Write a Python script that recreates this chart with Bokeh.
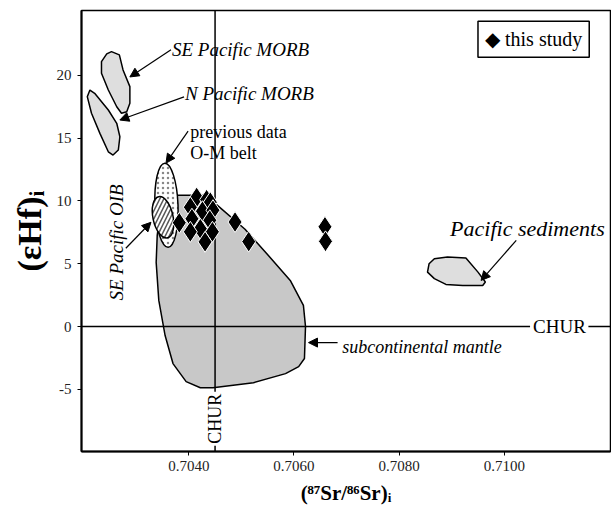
from bokeh.plotting import figure
from bokeh.models import (Range1d, FixedTicker, PrintfTickFormatter, Label, Arrow, NormalHead)
from bokeh.embed import file_html
from bokeh.resources import INLINE

# ---- data: this study ----
sr_this = [0.70415, 0.70434, 0.70441, 0.70403, 0.70426, 0.70446, 0.70382, 0.70406,
           0.70440, 0.70422, 0.70403, 0.70445, 0.70431, 0.70488, 0.70514, 0.70659, 0.70660]
hf_this = [10.27, 10.10, 9.90, 9.50, 9.18, 9.26, 8.26, 8.58,
           8.46, 7.78, 7.54, 7.54, 6.74, 8.32, 6.76, 7.94, 6.78]

# ---- fields (outlines) ----
mantle_sr = [0.70454, 0.70507, 0.70551, 0.70593, 0.70618, 0.70622, 0.70620, 0.70609,
             0.70584, 0.70523, 0.70446, 0.70422, 0.70395, 0.70370, 0.70355, 0.70343,
             0.70338, 0.70340, 0.70345, 0.70359, 0.70374, 0.70431]
mantle_hf = [9.66, 7.74, 5.67, 3.67, 1.68, 0.0, -2.55, -3.19,
             -3.75, -4.47, -4.87, -4.87, -4.39, -2.95, -0.72, 2.08,
             5.11, 7.26, 8.86, 10.22, 10.46, 10.46]
se_morb_sr = [0.70253, 0.70268, 0.70275, 0.70288, 0.70288, 0.70282, 0.70272, 0.70263,
              0.70247, 0.70234, 0.70234, 0.70244]
se_morb_hf = [21.89, 21.63, 20.43, 19.10, 17.77, 17.10, 16.98, 17.50,
              18.83, 20.17, 21.09, 21.71]
n_morb_sr = [0.70212, 0.70221, 0.70247, 0.70263, 0.70269, 0.70266, 0.70256, 0.70247,
             0.70231, 0.70215, 0.70207]
n_morb_hf = [18.83, 18.57, 17.24, 16.18, 15.11, 14.05, 13.65, 13.91,
             15.38, 16.98, 18.30]
sed_sr = [0.70857, 0.70867, 0.70892, 0.70927, 0.70950, 0.70964, 0.70959, 0.70921,
          0.70889, 0.70867, 0.70854]
sed_hf = [5.00, 5.40, 5.53, 5.45, 4.33, 3.54, 3.27, 3.27, 3.35, 3.81, 4.33]
prev_center = (0.703576, 9.66)
prev_size = (0.000439, 6.7)
oib_center = (0.703510, 8.70)
oib_size = (0.000382, 3.35)

CHUR_SR = 0.7045
CHUR_HF = 0.0

x_ticks = [0.7040, 0.7060, 0.7080, 0.7100]
y_ticks = [-5, 0, 5, 10, 15, 20]

X0, X1 = 0.70196, 0.71202
Y0, Y1 = -9.95, 25.16

SERIF = "Liberation Serif"

p = figure(width=611, height=523, output_backend="svg", toolbar_location=None,
           x_range=Range1d(X0, X1), y_range=Range1d(Y0, Y1),
           min_border_left=81, min_border_right=1, min_border_top=10, min_border_bottom=72)
p.grid.visible = False
p.outline_line_color = "black"
p.outline_line_width = 1.5
p.background_fill_color = "white"

# axes
p.xaxis.ticker = FixedTicker(ticks=x_ticks)
p.yaxis.ticker = FixedTicker(ticks=y_ticks)
p.xaxis.formatter = PrintfTickFormatter(format="%.4f")
p.yaxis.formatter = PrintfTickFormatter(format="%d")
for ax in (p.xaxis, p.yaxis):
    ax.axis_line_width = 2
    ax.axis_line_color = "black"
    ax.major_tick_out = 4
    ax.major_tick_in = 0
    ax.minor_tick_out = 0
    ax.minor_tick_in = 0
    ax.major_label_text_font = SERIF
    ax.major_label_text_font_size = "15px"
    ax.major_label_text_color = "#222222"
    ax.axis_label_text_font = SERIF
    ax.axis_label_text_font_style = "bold"
    ax.axis_label_text_color = "black"
p.yaxis.major_label_standoff = 6
p.xaxis.major_label_standoff = 5
p.yaxis.axis_label = "(εHf)ᵢ"
p.yaxis.axis_label_text_font_size = "34px"
p.yaxis.axis_label_standoff = 6
p.xaxis.axis_label = "(⁸⁷Sr/⁸⁶Sr)ᵢ"
p.xaxis.axis_label_text_font_size = "21px"
p.xaxis.axis_label_standoff = 7

# fields
p.patch(mantle_sr, mantle_hf, fill_color="#c8c8c8", line_color="black", line_width=1.5)
p.patch(se_morb_sr, se_morb_hf, fill_color="#dedede", line_color="black", line_width=1.5)
p.patch(n_morb_sr, n_morb_hf, fill_color="#dedede", line_color="black", line_width=1.5)
p.patch(sed_sr, sed_hf, fill_color="#dedede", line_color="black", line_width=1.5)

# CHUR reference lines (broken where the CHUR labels sit)
p.segment(x0=[X0, 0.71160], y0=[CHUR_HF, CHUR_HF], x1=[0.71049, X1], y1=[CHUR_HF, CHUR_HF],
          line_color="black", line_width=1.5)
p.segment(x0=[CHUR_SR, CHUR_SR], y0=[Y1, -9.5], x1=[CHUR_SR, CHUR_SR], y1=[-5.19, Y0],
          line_color="black", line_width=1.5)

p.ellipse(x=[prev_center[0]], y=[prev_center[1]], width=[prev_size[0]], height=[prev_size[1]],
          angle=0.04, fill_color="white", line_color="black", line_width=1.5,
          hatch_pattern="dot", hatch_color="#888888", hatch_scale=5, hatch_weight=1)
p.ellipse(x=[oib_center[0]], y=[oib_center[1]], width=[oib_size[0]], height=[oib_size[1]],
          angle=0.21, fill_color="white", line_color="black", line_width=1.5,
          hatch_pattern="right_diagonal_line", hatch_color="#555555", hatch_scale=8, hatch_weight=1.5)

p.scatter(sr_this, hf_this, marker="diamond", size=21, fill_color="black",
          line_color="white", line_width=1)

# labels
def lab(x, y, text, size, style="italic", align="left", angle=0.0, baseline="middle", **kw):
    p.add_layout(Label(x=x, y=y, text=text, text_font=SERIF, text_font_size=size,
                       text_font_style=style, text_align=align, text_baseline=baseline,
                       angle=angle, text_color="black", **kw))

lab(0.70368, 22.03, "SE Pacific MORB", "19px")
lab(0.70393, 18.52, "N Pacific MORB", "19px")
lab(0.70403, 15.51, "previous data", "18px", style="normal")
lab(0.70403, 13.81, "O-M belt", "18px", style="normal")
lab(0.70263, 6.70, "SE Pacific OIB", "19px", align="center", angle=1.5708)
lab(0.70897, 7.82, "Pacific sediments", "22px")
lab(0.70692, -1.65, "subcontinental mantle", "18px")
lab(0.71105, 0.0, "CHUR", "19px", style="normal", align="center")
lab(CHUR_SR, -7.34, "CHUR", "18px", style="normal", align="center", angle=1.5708)

# legend box
lab(0.70950, 22.87, "◆ this study", "20px", style="normal",
    border_line_color="black", border_line_width=1.5, background_fill_color="white",
    padding=7)

# arrows
arrows = [((0.703662, 22.03), (0.702880, 19.87)),
          ((0.703910, 18.28), (0.702689, 16.44)),
          ((0.703987, 15.56), (0.703567, 13.01)),
          ((0.702803, 6.23), (0.703281, 8.30)),
          ((0.710228, 6.86), (0.709559, 3.67)),
          ((0.706830, -1.28), (0.706277, -1.28))]
for (xs, ys), (xe, ye) in arrows:
    p.add_layout(Arrow(x_start=xs, y_start=ys, x_end=xe, y_end=ye, line_width=1.2,
                       end=NormalHead(size=9, fill_color="black", line_color="black")))

open("out.html", "w").write(file_html(p, INLINE))
